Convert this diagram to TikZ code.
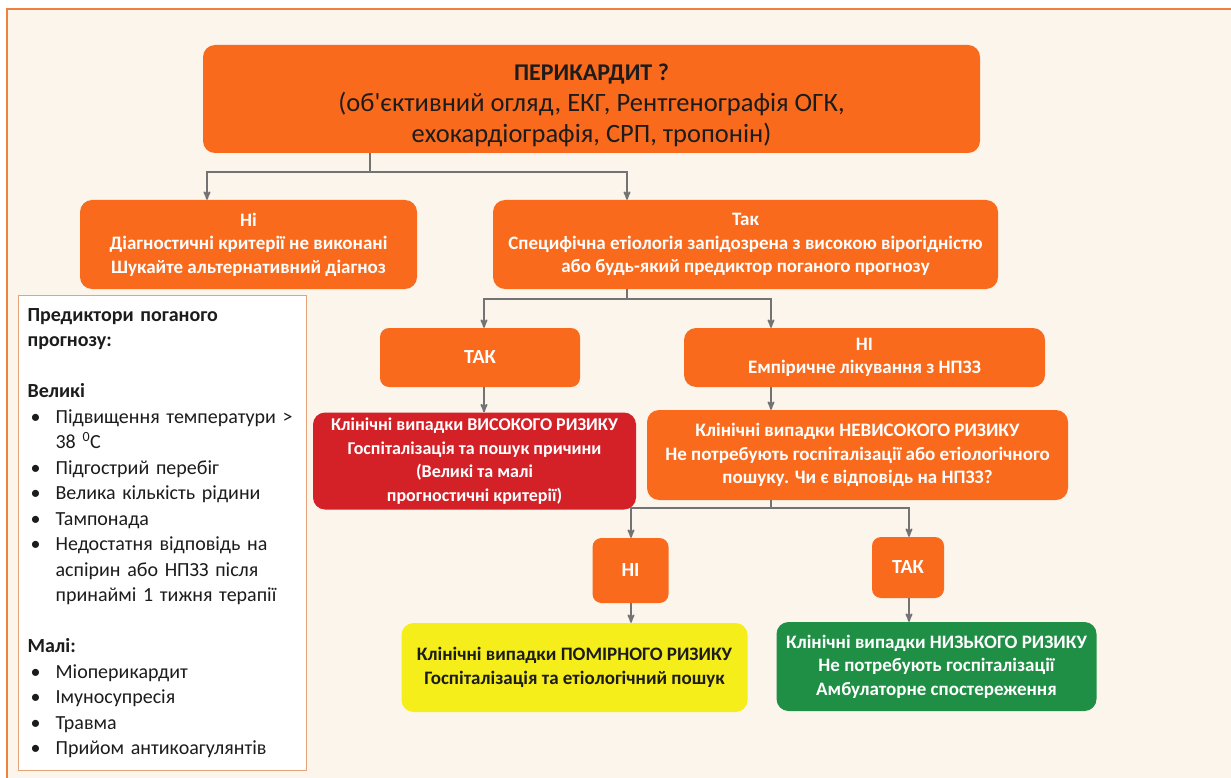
\documentclass[tikz,border=0pt]{standalone}
\usepackage{fontspec}
\setmainfont{Carlito}
\usetikzlibrary{arrows,positioning}
\definecolor{orng}{HTML}{F96A1C}
\definecolor{riskred}{HTML}{D42027}
\definecolor{riskyel}{HTML}{F5EE1A}
\definecolor{riskgrn}{HTML}{1E8F44}
\definecolor{cream}{HTML}{FCF5EC}
\definecolor{framec}{HTML}{F08040}
\definecolor{panelc}{HTML}{E3A47A}
\definecolor{linegray}{HTML}{737373}
\definecolor{txtdark}{HTML}{1C1C1C}
\newcommand{\pitem}[1]{\hspace*{3pt}\makebox[25pt][l]{•}#1}
\tikzset{>=stealth',
    flow/.style={draw=linegray, line width=1.8pt},
    arr/.style={flow,->},
    box/.style={rectangle, rounded corners=12pt, fill=orng, text=white,
        align=center, inner sep=0pt, font=\bfseries\fontsize{19}{23.5}\selectfont},
    smallbox/.style={box, rounded corners=9pt, font=\bfseries\fontsize{20}{23}\selectfont},
    panel/.style={rectangle, draw=panelc, line width=1.2pt, fill=white, text=txtdark,
        align=left, text width=270pt, inner xsep=9pt, inner ysep=0pt,
        font=\fontsize{20}{25.5}\selectfont}}

\begin{document}
\begin{tikzpicture}[x=1pt,y=-1pt]
\useasboundingbox (0,0) rectangle (1231,778);
\fill[white] (0,0) rectangle (1231,778);
\fill[cream] (7,9) rectangle (1231,778);
\draw[framec, line width=1.2pt] (1231,9) -- (7,9) -- (7,778);

% columns of the connectors
\coordinate (cA) at (370,0);
\coordinate (cNi) at (207,0);
\coordinate (cTak) at (627,0);
\coordinate (cTak2) at (484,0);
\coordinate (cNi2) at (771,0);
\coordinate (cLo) at (631,0);
\coordinate (cHi) at (909,0);

\node[box, text=txtdark, font=\fontsize{26.5}{31}\selectfont, minimum width=777pt, minimum height=108pt] (top) at (591.5,99)
    {\rule{0pt}{30pt}{\fontsize{24}{31}\selectfont\bfseries ПЕРИКАРДИТ ?}\\(об\textquotesingle єктивний огляд, ЕКГ, Рентгенографія ОГК,\\ехокардіографія, СРП, тропонін)};
\node[box, minimum width=337pt, minimum height=89pt] (ni) at (248.5,244.5)
    {Ні\\Діагностичні критерії не виконані\\Шукайте альтернативний діагноз};
\node[box, minimum width=505pt, minimum height=89pt] (tak) at (745.5,244.5)
    {Так\\Специфічна етіологія запідозрена з високою вірогідністю\\або будь-який предиктор поганого прогнозу};
\node[smallbox, minimum width=200pt, minimum height=59pt] (tak2) at (480,357.5) {ТАК};
\node[box, minimum width=361pt, minimum height=59pt] (ni2) at (864.5,357.5)
    {НІ\\Емпіричне лікування з НПЗЗ};
\node[box, fill=riskred, font=\bfseries\fontsize{18}{23.5}\selectfont, minimum width=323pt, minimum height=97pt] (high) at (474.5,461)
    {Клінічні випадки ВИСОКОГО РИЗИКУ\\Госпіталізація та пошук причини\\(Великі та малі\\прогностичні критерії)};
\node[box, minimum width=421pt, minimum height=90pt] (nonhigh) at (857.5,455)
    {Клінічні випадки НЕВИСОКОГО РИЗИКУ\\Не потребують госпіталізації або етіологічного\\пошуку. Чи є відповідь на НПЗЗ?};
\node[smallbox, minimum width=76pt, minimum height=65pt] (ni3) at (630.5,570.5) {НІ};
\node[smallbox, minimum width=72pt, minimum height=61pt] (tak3) at (908,567.5) {ТАК};
\node[box, fill=riskyel, text=txtdark, minimum width=346pt, minimum height=89pt] (mid) at (574.5,667.5)
    {Клінічні випадки ПОМІРНОГО РИЗИКУ\\Госпіталізація та етіологічний пошук};
\node[box, fill=riskgrn, minimum width=320pt, minimum height=89pt] (low) at (936.5,666.5)
    {Клінічні випадки НИЗЬКОГО РИЗИКУ\\Не потребують госпіталізації\\Амбулаторне спостереження};

\node[panel, anchor=north west, minimum height=475pt] (pred) at (18,295)
    {\textbf{Предиктори поганого}\\
     \textbf{прогнозу:}\\[25.5pt]
     \textbf{Великі}\\
     \pitem{Підвищення температури >}\\
     \hspace*{28pt}38 \textsuperscript{0}C\\
     \pitem{Підгострий перебіг}\\
     \pitem{Велика кількість рідини}\\
     \pitem{Тампонада}\\
     \pitem{Недостатня відповідь на}\\
     \hspace*{28pt}аспірин або НПЗЗ після\\
     \hspace*{28pt}принаймі 1 тижня терапії\\[25.5pt]
     \textbf{Малі:}\\
     \pitem{Міоперикардит}\\
     \pitem{Імуносупресія}\\
     \pitem{Травма}\\
     \pitem{Прийом антикоагулянтів}};

% connectors
\coordinate (j1) at (370,172);
\coordinate (j2) at (627,299);
\coordinate (j3) at (771,508);
\draw[flow] (top.south -| cA) -- (j1);
\draw[arr] (j1) -| (ni.north -| cNi);
\draw[arr] (j1) -| (tak.north -| cTak);
\draw[flow] (tak.south -| cTak) -- (j2);
\draw[arr] (j2) -| (tak2.north -| cTak2);
\draw[arr] (j2) -| (ni2.north -| cNi2);
\draw[arr] (tak2.south -| cTak2) -- (high.north -| cTak2);
\draw[arr] (ni2.south -| cNi2) -- (nonhigh.north -| cNi2);
\draw[flow] (nonhigh.south -| cNi2) -- (j3);
\draw[arr] (j3) -| (ni3.north -| cLo);
\draw[arr] (j3) -| (tak3.north -| cHi);
\draw[arr] (ni3.south -| cLo) -- (mid.north -| cLo);
\draw[arr] (tak3.south -| cHi) -- (low.north -| cHi);
\end{tikzpicture}
\end{document}
